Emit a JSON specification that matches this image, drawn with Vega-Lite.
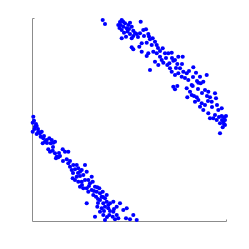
{
  "$schema": "https://vega.github.io/schema/vega-lite/v6.json",
  "width": 194,
  "height": 203,
  "autosize": "none",
  "padding": {"left": 32, "top": 18, "right": 23, "bottom": 28},
  "background": "white",
  "config": {"view": {"stroke": null}},
  "data": {"values": [
    {"x":70.7,"y":201},{"x":73,"y":197},{"x":89.7,"y":201},{"x":88.7,"y":196},{"x":86.3,"y":196},{"x":91.3,"y":194.3},{"x":93,"y":197.7},{"x":94.7,"y":192.7},{"x":89.7,"y":191},{"x":92,"y":188.3},
    {"x":96.3,"y":196},{"x":98,"y":198.3},{"x":99.7,"y":194.3},{"x":101.3,"y":190.3},{"x":98,"y":187},{"x":94,"y":184.3},{"x":89.7,"y":182.7},{"x":99.7,"y":182.7},{"x":101.3,"y":185},{"x":104.7,"y":187},
    {"x":108,"y":187.7},{"x":108.7,"y":199.3},{"x":111.3,"y":191},{"x":114,"y":191.7},{"x":116.3,"y":187},{"x":118,"y":181.7},{"x":120.7,"y":182.7},{"x":123,"y":179.3},{"x":124.7,"y":176},{"x":119.7,"y":176},
    {"x":114.7,"y":178.3},{"x":109.7,"y":177.7},{"x":107.3,"y":174.3},{"x":99.7,"y":173.7},{"x":101.3,"y":171.7},{"x":109.7,"y":169.3},{"x":116.3,"y":167.7},{"x":121.3,"y":169.3},{"x":124.7,"y":167.7},{"x":130.7,"y":172.7},
    {"x":133,"y":167.7},{"x":128,"y":164.3},{"x":129.7,"y":161},{"x":123,"y":159.3},{"x":118,"y":151},{"x":126.3,"y":156},{"x":131.3,"y":158.3},{"x":136.3,"y":167.7},{"x":139.7,"y":168.3},{"x":135.3,"y":156},
    {"x":138,"y":152.7},{"x":143,"y":161},{"x":145.3,"y":157},{"x":146.3,"y":164.3},{"x":150.7,"y":164.3},{"x":148,"y":152.7},{"x":151.3,"y":149.3},{"x":146.3,"y":147.7},{"x":143,"y":146},{"x":139.7,"y":149.3},
    {"x":149.7,"y":144.3},{"x":154.7,"y":147.7},{"x":156.3,"y":141},{"x":161.3,"y":153.7},{"x":164,"y":148.3},{"x":168,"y":144.3},{"x":171.3,"y":139.3},{"x":174.7,"y":146},{"x":166.3,"y":138.3},{"x":159.7,"y":136},
    {"x":154.7,"y":132.7},{"x":141.3,"y":134.3},{"x":143,"y":131.7},{"x":145.3,"y":135},{"x":158,"y":129.3},{"x":155.3,"y":123.7},{"x":159.7,"y":126},{"x":162,"y":125},{"x":164.7,"y":123.7},{"x":163,"y":119.3},
    {"x":166.3,"y":121},{"x":169.7,"y":117.7},{"x":173,"y":131},{"x":176.3,"y":129.3},{"x":178,"y":123.7},{"x":183,"y":127.7},{"x":184,"y":122.7},{"x":179.7,"y":119.3},{"x":173,"y":116},{"x":168,"y":114.3},
    {"x":171.3,"y":111},{"x":176.3,"y":107.7},{"x":178,"y":102.7},{"x":183,"y":106},{"x":186.3,"y":111},{"x":189.7,"y":112.7},{"x":189.7,"y":105},{"x":184.7,"y":101},{"x":188,"y":97.7},{"x":191.3,"y":99.3},
    {"x":193,"y":96},{"x":190.7,"y":93.7},{"x":188,"y":87.7},{"x":181.3,"y":102.7},{"x":141.3,"y":160.3},{"x":114.7,"y":165},{"x":137.3,"y":157.7},{"x":192,"y":103.7},{"x":194,"y":105},{"x":192,"y":97},
    {"x":168.7,"y":137.7},{"x":160.7,"y":135},
    {"x":88,"y":199},{"x":91,"y":199.5},{"x":87.5,"y":193},{"x":95.5,"y":189.5},{"x":97,"y":192},{"x":103,"y":188},{"x":106,"y":184},{"x":112,"y":185},{"x":117,"y":184.5},{"x":126,"y":173},
    {"x":128,"y":170},{"x":134,"y":163},{"x":140,"y":163},{"x":144,"y":153},{"x":150,"y":157},{"x":153,"y":143},{"x":157,"y":150},{"x":161,"y":144},{"x":165,"y":140},{"x":170,"y":128},
    {"x":175,"y":125},{"x":180,"y":114},{"x":185,"y":116},{"x":187,"y":104},{"x":190,"y":101},{"x":193,"y":101},{"x":176,"y":120},{"x":166,"y":132},
    {"x":1.3,"y":104.3},{"x":2,"y":100.3},{"x":0.7,"y":98.3},{"x":4,"y":97},{"x":3,"y":94.3},{"x":4.7,"y":95},{"x":0.7,"y":89.3},{"x":6.3,"y":89.3},{"x":8,"y":87.7},{"x":9.7,"y":89.3},
    {"x":4.7,"y":87},{"x":8.7,"y":84.3},{"x":11.3,"y":82.7},{"x":13,"y":79.3},{"x":10.7,"y":77.7},{"x":14.7,"y":81},{"x":17.3,"y":82.7},{"x":19.7,"y":81},{"x":21.3,"y":78.3},{"x":23,"y":79.3},
    {"x":18.7,"y":77.7},{"x":16.3,"y":71.7},{"x":18,"y":69.3},{"x":20.7,"y":70.3},{"x":23,"y":67.7},{"x":24.7,"y":64.3},{"x":26.3,"y":63.7},{"x":28,"y":65},{"x":24,"y":62.7},{"x":30.7,"y":71.7},
    {"x":33,"y":69.3},{"x":36.3,"y":69.3},{"x":34.7,"y":61.7},{"x":36.3,"y":57.7},{"x":38,"y":54.3},{"x":41.3,"y":56},{"x":43,"y":51.7},{"x":39.7,"y":51},{"x":44.7,"y":56},{"x":46.3,"y":52.7},
    {"x":48,"y":49.3},{"x":49.7,"y":51},{"x":53,"y":56},{"x":54.7,"y":49.3},{"x":51.3,"y":46},{"x":48,"y":45},{"x":44.7,"y":44.3},{"x":40.7,"y":42.7},{"x":43,"y":41},{"x":46.3,"y":39.3},
    {"x":49.7,"y":39.3},{"x":53,"y":41},{"x":56.3,"y":41},{"x":58,"y":37.7},{"x":60.7,"y":39.3},{"x":48,"y":34.3},{"x":51.3,"y":32.7},{"x":54.7,"y":32.7},{"x":56.3,"y":29.3},{"x":59.7,"y":31},
    {"x":63,"y":34.3},{"x":65.3,"y":33.7},{"x":67.3,"y":32.7},{"x":64.7,"y":29.3},{"x":61.3,"y":26},{"x":64,"y":24.3},{"x":68,"y":27.7},{"x":70.7,"y":29.3},{"x":69.7,"y":24.3},{"x":73,"y":22.7},
    {"x":74.7,"y":26},{"x":68,"y":21},{"x":71.3,"y":17.7},{"x":74.7,"y":19.3},{"x":76.3,"y":16},{"x":73,"y":14.3},{"x":65.3,"y":14.3},{"x":69.7,"y":12.7},{"x":76.3,"y":12.7},{"x":78,"y":17.7},
    {"x":81.3,"y":19.3},{"x":84.7,"y":14.3},{"x":88,"y":17.7},{"x":81.3,"y":9.3},{"x":77.3,"y":6},{"x":80.7,"y":4.3},{"x":84.7,"y":6},{"x":86.3,"y":2.7},{"x":83,"y":1.7},{"x":73,"y":1},
    {"x":63,"y":4.3},{"x":54.7,"y":17.7},{"x":59.7,"y":44.3},{"x":91.3,"y":11},{"x":94.7,"y":12.7},{"x":94,"y":2.7},{"x":98,"y":1.7},{"x":101.3,"y":6},{"x":104.7,"y":1},{"x":68,"y":9.3},
    {"x":71.3,"y":6},
    {"x":2.5,"y":92},{"x":6,"y":92},{"x":12,"y":85},{"x":15,"y":78},{"x":21,"y":74},{"x":27,"y":68},{"x":31,"y":60},{"x":38,"y":60},{"x":41,"y":48},{"x":46,"y":48},
    {"x":50,"y":36},{"x":57,"y":35},{"x":62,"y":30},{"x":66,"y":22},{"x":71,"y":24},{"x":72,"y":10},{"x":78,"y":10},{"x":75,"y":4},{"x":82,"y":12},{"x":66,"y":18}
  ]},
  "mark": {"type": "circle", "size": 17, "opacity": 1, "color": "#0000ff"},
  "encoding": {
    "x": {"field": "x", "type": "quantitative", "scale": {"domain": [0, 194], "nice": false, "zero": false},
      "axis": {"title": null, "labels": false, "values": [194], "ticks": true, "tickSize": -2, "tickColor": "#8c8c8c", "grid": false, "domainColor": "#8c8c8c", "domainWidth": 1}},
    "y": {"field": "y", "type": "quantitative", "scale": {"domain": [0, 203], "nice": false, "zero": false},
      "axis": {"title": null, "labels": false, "values": [203], "ticks": true, "tickSize": -2, "tickColor": "#8c8c8c", "grid": false, "domainColor": "#8c8c8c", "domainWidth": 1}}
  }
}
